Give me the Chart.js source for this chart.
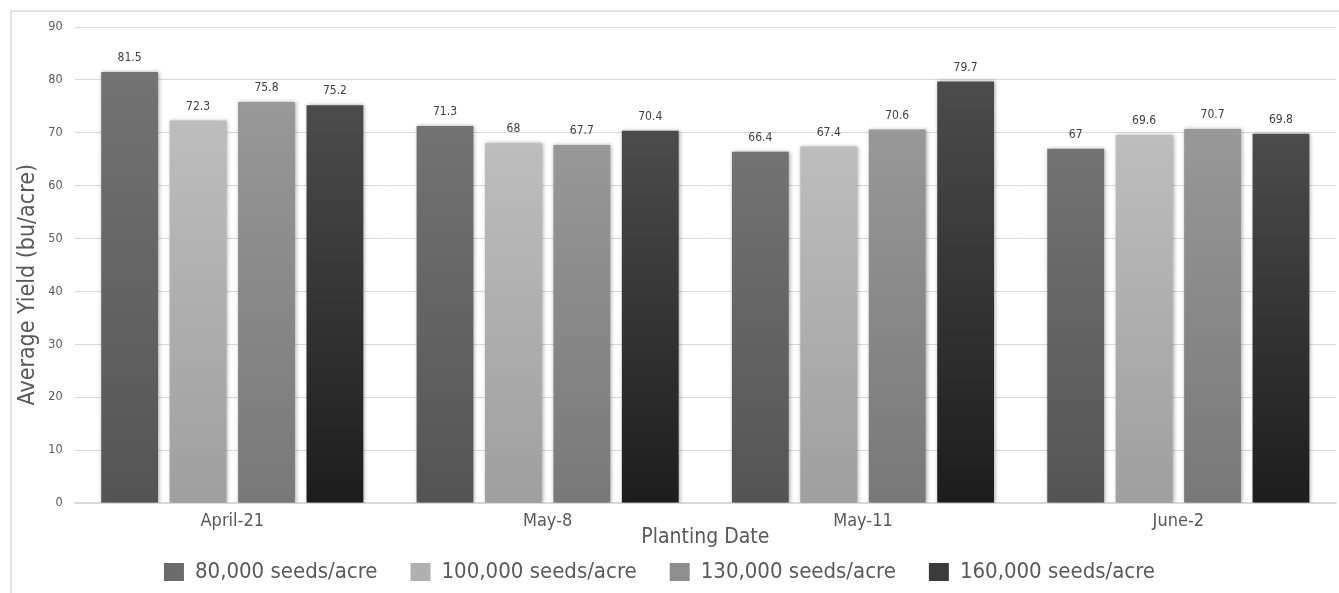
<!DOCTYPE html>
<html>
<head>
<meta charset="utf-8">
<script src="https://cdn.jsdelivr.net/npm/chart.js@4/dist/chart.umd.min.js"></script>
<style>
  html, body { margin: 0; padding: 0; background: #ffffff; }
  #wrap { position: relative; width: 1339px; height: 593px; }
</style>
</head>
<body>
<div id="wrap"><canvas id="c" width="1339" height="593"></canvas></div>
<script>
const categories = ['April-21', 'May-8', 'May-11', 'June-2'];
const seriesNames = ['80,000 seeds/acre', '100,000 seeds/acre', '130,000 seeds/acre', '160,000 seeds/acre'];
const s80  = [81.5, 71.3, 66.4, 67];
const s100 = [72.3, 68, 67.4, 69.6];
const s130 = [75.8, 67.7, 70.6, 70.7];
const s160 = [75.2, 70.4, 79.7, 69.8];
const yTicks = [0, 10, 20, 30, 40, 50, 60, 70, 80, 90];

const FONT = "'DejaVu Sans Condensed', 'Liberation Sans Narrow', sans-serif";
const TXT = '#595959';

const gradTop    = ['#737373', '#bdbdbd', '#989898', '#4c4c4c'];
const gradBottom = ['#545454', '#9f9f9f', '#787878', '#1d1d1d'];
const legendCol  = ['#6b6b6b', '#b0b0b0', '#8f8f8f', '#3b3b3b'];

function barFill(i) {
  return function (ctx) {
    const chart = ctx.chart;
    if (ctx.type !== 'data' || !chart.chartArea || !chart.scales.y) return legendCol[i];
    const y = chart.scales.y;
    const top = y.getPixelForValue(ctx.raw);
    const bottom = y.getPixelForValue(0);
    if (!isFinite(top) || !isFinite(bottom) || top === bottom) return legendCol[i];
    const g = chart.ctx.createLinearGradient(0, top, 0, bottom);
    g.addColorStop(0, gradTop[i]);
    g.addColorStop(1, gradBottom[i]);
    return g;
  };
}

const allSeries = [s80, s100, s130, s160];
const datasets = allSeries.map((vals, i) => ({
  label: seriesNames[i],
  data: vals,
  backgroundColor: barFill(i),
  borderWidth: 0,
  categoryPercentage: 0.868,
  barPercentage: 0.83
}));

const frame = {
  id: 'frame',
  beforeDraw(chart) {
    const c = chart.ctx;
    c.save();
    c.fillStyle = '#ffffff';
    c.fillRect(0, 0, chart.width, chart.height);
    c.strokeStyle = '#d9d9d9';
    c.lineWidth = 1.5;
    c.strokeRect(11, 11, 1500, 800);
    c.restore();
  }
};

const shadow = {
  id: 'shadow',
  beforeDatasetsDraw(chart) {
    const c = chart.ctx;
    c.save();
    c.shadowColor = 'rgba(0,0,0,0.35)';
    c.shadowBlur = 4;
    c.shadowOffsetX = 1;
    c.shadowOffsetY = 0;
  },
  afterDatasetsDraw(chart) {
    chart.ctx.restore();
  }
};

const valueLabels = {
  id: 'valueLabels',
  afterDatasetsDraw(chart) {
    const c = chart.ctx;
    c.save();
    c.font = '12px ' + FONT;
    c.fillStyle = '#404040';
    c.textAlign = 'center';
    c.textBaseline = 'middle';
    chart.data.datasets.forEach((ds, di) => {
      const meta = chart.getDatasetMeta(di);
      meta.data.forEach((el, i) => {
        c.fillText(String(ds.data[i]), el.x, el.y - 14);
      });
    });
    c.restore();
  }
};

const LEGEND_PAD = 33;
const EXTRA = LEGEND_PAD - 26;

const layoutTweak = {
  id: 'layoutTweak',
  afterLayout(chart) {
    const lg = chart.legend;
    if (lg) { lg.left -= 14; lg.right -= 14; }
    const x = chart.scales.x;
    if (x) { x.bottom += EXTRA; x.height += EXTRA; }
  }
};

const PAD_BOTTOM = 0;
const PLOT_BOTTOM = 503;

new Chart(document.getElementById('c'), {
  type: 'bar',
  data: { labels: categories, datasets },
  plugins: [frame, shadow, valueLabels, layoutTweak],
  options: {
    responsive: false,
    animation: false,
    devicePixelRatio: 1,
    layout: { padding: { top: 27, left: 11, right: 3, bottom: PAD_BOTTOM } },
    scales: {
      x: {
        grid: { display: false },
        border: { display: true, color: '#d9d9d9', width: 1.5 },
        ticks: { color: TXT, font: { family: FONT, size: 18 }, padding: 0 },
        title: { display: true, text: 'Planting Date', color: TXT, font: { family: FONT, size: 21 }, padding: { top: 0, bottom: -15 } },
        afterFit(scale) {
          const lh = scale.chart.legend ? scale.chart.legend.height : 58;
          scale.height = 593 - PAD_BOTTOM - lh - PLOT_BOTTOM;
        }
      },
      y: {
        min: 0, max: 90,
        afterBuildTicks(scale) { scale.ticks = yTicks.map(v => ({ value: v })); },
        afterFit(scale) { scale.width = 63.6; },
        grid: { color: '#d9d9d9', lineWidth: 1, drawTicks: false },
        border: { display: false },
        ticks: { color: TXT, font: { family: FONT, size: 12.5 }, padding: 12 },
        title: { display: true, text: 'Average Yield (bu/acre)      ', color: TXT, font: { family: FONT, size: 23 }, padding: { top: 3, bottom: 0 } }
      }
    },
    plugins: {
      legend: {
        position: 'bottom',
        labels: {
          color: TXT, font: { family: FONT, size: 22 }, boxWidth: 20, boxHeight: 18, padding: LEGEND_PAD,
          generateLabels(chart) {
            return chart.data.datasets.map((ds, i) => ({
              text: ds.label, fillStyle: legendCol[i], strokeStyle: legendCol[i],
              lineWidth: 0, hidden: false, datasetIndex: i, fontColor: TXT
            }));
          }
        }
      },
      tooltip: { enabled: false }
    }
  }
});
</script>
</body>
</html>
